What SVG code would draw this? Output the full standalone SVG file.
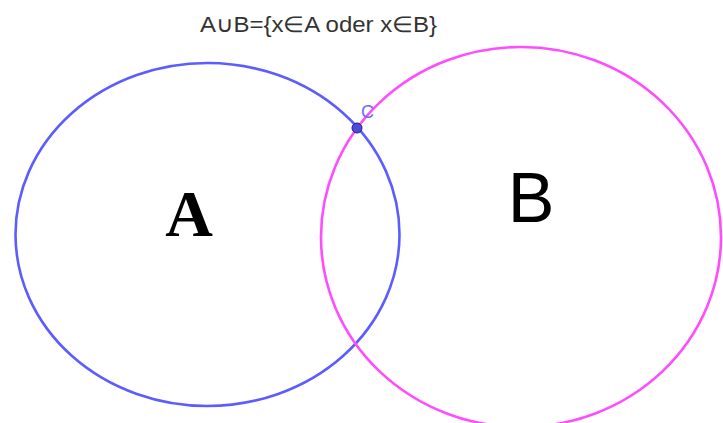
<svg xmlns="http://www.w3.org/2000/svg" width="723" height="423" viewBox="0 0 723 423">
<style>
.set{fill:none;stroke-width:2.6}
.title{font-family:"Liberation Sans",Arial,sans-serif;font-size:22px;fill:#333}
</style>
<rect width="723" height="423" fill="#fff"/>
<text class="title" x="200" y="32" textLength="237" lengthAdjust="spacingAndGlyphs">A∪B={x∈A oder x∈B}</text>
<g id="setA">
<ellipse class="set" cx="207.5" cy="234.5" rx="192" ry="171.5" stroke="#5c5cff"/>
<text x="189" y="236" text-anchor="middle" font-family="Liberation Serif,serif" font-weight="bold" font-size="66" fill="#000">A</text>
</g>
<g id="setB">
<ellipse class="set" cx="521" cy="237" rx="200" ry="190" stroke="#ff4cff"/>
<text x="531" y="222" text-anchor="middle" font-family="Liberation Sans,Arial,sans-serif" font-size="70" fill="#000">B</text>
</g>
<g id="pointC">
<circle cx="357" cy="128" r="5" fill="#4b4bdd" stroke="#222266" stroke-width="1"/>
<text x="361" y="118" font-family="Liberation Sans,Arial,sans-serif" font-size="18" fill="#6c6cff">C</text>
</g>
<g id="connectors"/>
</svg>
